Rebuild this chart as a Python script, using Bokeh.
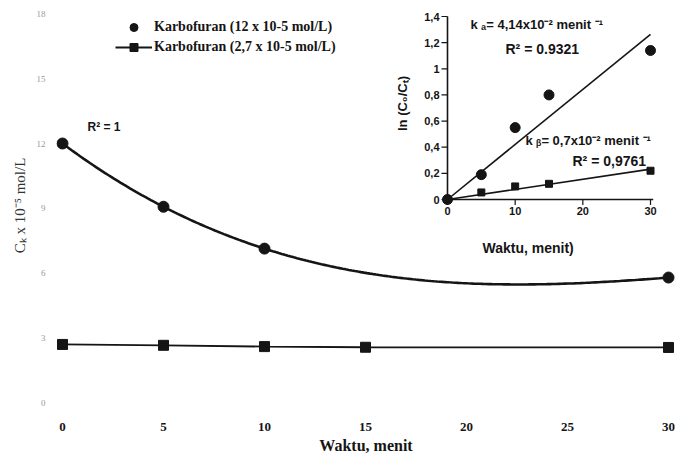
import numpy as np
from bokeh.plotting import figure
from bokeh.models import Range1d, Legend, LegendItem, Label, FixedTicker
from bokeh.core.properties import value
from bokeh.embed import file_html
from bokeh.resources import INLINE

# ---------------- data: main chart ----------------
waktu_12 = [0, 5, 10, 30]
ck_12 = [12.0, 9.07, 7.13, 5.79]
waktu_27 = [0, 5, 10, 15, 30]
ck_27 = [2.69, 2.65, 2.59, 2.56, 2.55]
x_ticks = [0, 5, 10, 15, 20, 25, 30]
y_ticks = [0, 3, 6, 9, 12, 15, 18]
legend_labels = ["Karbofuran (12 x 10-5 mol/L)", "Karbofuran (2,7 x 10-5 mol/L)"]

# ---------------- data: inset ----------------
inset_t = [0, 5, 10, 15, 30]
ln_12 = [0.0, 0.19, 0.55, 0.80, 1.14]
ln_27 = [0.0, 0.054, 0.10, 0.12, 0.22]
inset_x_ticks = [0, 10, 20, 30]
inset_x_labels = ["0", "10", "20", "30"]
inset_y_ticks = [0, 0.2, 0.4, 0.6, 0.8, 1.0, 1.2, 1.4]
inset_y_labels = ["0", "0,2", "0,4", "0,6", "0,8", "1", "1,2", "1,4"]

# ---------------- layout (pixels) ----------------
W, H = 679, 456
FL, FR, FT, FB = 56, 675, 5, 405
# main mapping
MX0, MX1, MY0, MY1 = 62, 668, 402, 143   # t=0, t=30, ck=0, ck=12
sx = (MX1 - MX0) / 30.0
sy = (MY0 - MY1) / 12.0
# inset mapping
IX0, IX1, IY0, IY1 = 447, 650, 199, 16   # t=0, t=30, ln=0, ln=1.4
isx = (IX1 - IX0) / 30.0
isy = (IY0 - IY1) / 1.4

def mx(px): return (px - MX0) / sx
def my(py): return (MY0 - py) / sy
def ixf(px): return (px - IX0) / isx
def iyf(py): return (IY0 - py) / isy

p = figure(width=W, height=H, output_backend="svg", toolbar_location=None,
           x_range=Range1d(mx(FL), mx(FR)), y_range=Range1d(my(FB), my(FT)),
           min_border_left=FL, min_border_right=W - FR,
           min_border_top=FT, min_border_bottom=H - FB)
p.extra_x_ranges = {"ix": Range1d(ixf(FL), ixf(FR))}
p.extra_y_ranges = {"iy": Range1d(iyf(FB), iyf(FT))}
p.outline_line_color = None
p.grid.visible = False
p.background_fill_color = "white"
p.border_fill_color = "white"

SERIF = "Liberation Serif"
SANS = "Liberation Sans"
INK = "#151515"

# axes
p.xaxis.ticker = FixedTicker(ticks=x_ticks)
p.yaxis.ticker = FixedTicker(ticks=y_ticks)
for ax in (p.xaxis, p.yaxis):
    ax.axis_line_color = None
    ax.major_tick_line_color = None
    ax.minor_tick_line_color = None
    ax.major_label_text_font = SERIF
p.xaxis.major_label_text_font_size = "13px"
p.xaxis.major_label_text_font_style = "bold"
p.xaxis.major_label_text_color = INK
p.xaxis.major_label_standoff = 11
p.xaxis.axis_label = "Waktu, menit"
p.xaxis.axis_label_text_font = SERIF
p.xaxis.axis_label_text_font_size = "16px"
p.xaxis.axis_label_text_font_style = "bold"
p.xaxis.axis_label_text_color = INK
p.xaxis.axis_label_standoff = 3
p.yaxis.major_label_text_font_size = "9px"
p.yaxis.major_label_text_color = "#9a9a9a"
p.yaxis.major_label_standoff = 5
p.yaxis.axis_label = "C\u2096 x 10\u207b\u2075 mol/L"
p.yaxis.axis_label_text_font = SERIF
p.yaxis.axis_label_text_font_size = "15px"
p.yaxis.axis_label_text_font_style = "normal"
p.yaxis.axis_label_text_color = "#333333"
p.yaxis.axis_label_standoff = 6

# main series
coef = np.polyfit(waktu_12, ck_12, 3)
tt = np.linspace(min(waktu_12), max(waktu_12), 200)
p.line(tt, np.polyval(coef, tt), line_width=2.6, line_color=INK)
r_c = p.scatter(waktu_12, ck_12, marker="circle", size=11, color=INK)
r_sl = p.line(waktu_27, ck_27, line_width=1.8, line_color=INK)
r_ss = p.scatter(waktu_27, ck_27, marker="square", size=10, color=INK)

p.add_layout(Label(x=mx(87), y=my(126), text="R\u00b2 = 1", text_font=SANS,
                   text_font_size="12px", text_font_style="bold",
                   text_color=INK, text_baseline="middle"))

legend = Legend(items=[LegendItem(label=legend_labels[0], renderers=[r_c]),
                       LegendItem(label=legend_labels[1], renderers=[r_sl, r_ss])],
                location=(115 - FL, FB - 57), orientation="vertical",
                glyph_width=37, glyph_height=20, label_height=20,
                label_standoff=2, spacing=0, padding=0, margin=0,
                border_line_color=None, background_fill_alpha=0,
                label_text_font=SERIF, label_text_font_size="14px",
                label_text_font_style="bold", label_text_color=INK)
p.add_layout(legend)

# ---------------- inset ----------------
R = dict(x_range_name="ix", y_range_name="iy")
p.segment(x0=[inset_x_ticks[0]], y0=[inset_y_ticks[0]], x1=[inset_x_ticks[0]],
          y1=[inset_y_ticks[-1]], line_width=1.6, line_color=INK, **R)
p.segment(x0=[inset_x_ticks[0]], y0=[inset_y_ticks[0]], x1=[inset_x_ticks[-1] + 0.4],
          y1=[inset_y_ticks[0]], line_width=1.6, line_color=INK, **R)
p.scatter([inset_x_ticks[0] - 3 / isx] * len(inset_y_ticks), inset_y_ticks, marker="dash",
          size=6, line_width=1.2, line_color=INK, **R)
p.scatter(inset_x_ticks, [inset_y_ticks[0] - 3 / isy] * len(inset_x_ticks), marker="dash",
          angle=np.pi / 2, size=5, line_width=1.2, line_color=INK, **R)
p.text([inset_x_ticks[0]] * len(inset_y_ticks), inset_y_ticks, text=inset_y_labels,
       x_offset=-8, text_align="right", text_baseline="middle",
       text_font=value(SANS), text_font_size="11px", text_font_style="bold",
       text_color=INK, **R)
p.text(inset_x_ticks, [inset_y_ticks[0]] * len(inset_x_ticks), text=inset_x_labels,
       y_offset=11, text_align="center", text_baseline="middle",
       text_font=value(SANS), text_font_size="11px", text_font_style="bold",
       text_color=INK, **R)

t_arr = np.array(inset_t, dtype=float)
k12 = float(np.sum(t_arr * np.array(ln_12)) / np.sum(t_arr ** 2))
k27 = float(np.sum(t_arr * np.array(ln_27)) / np.sum(t_arr ** 2))
tl = np.array([0.0, max(inset_t)])
p.line(tl, k12 * tl, line_width=1.6, line_color=INK, **R)
p.line(tl, k27 * tl, line_width=1.6, line_color=INK, **R)
p.scatter(inset_t, ln_27, marker="square", size=7, color=INK, **R)
p.scatter(inset_t, ln_12, marker="circle", size=10, color=INK, **R)

def ilabel(px, py, text, size="12px", **kw):
    p.add_layout(Label(x=ixf(px), y=iyf(py), text=text, text_font=SANS,
                       text_font_size=size, text_font_style="bold",
                       text_color=INK, text_baseline="middle",
                       x_range_name="ix", y_range_name="iy", **kw))

ilabel(470, 24, "k \u2090= 4,14x10\u207b\u00b2 menit \u207b\u00b9", size="13px")
ilabel(505, 48, "R\u00b2 = 0.9321", size="14px")
ilabel(525, 140, "k \u1d66= 0,7x10\u207b\u00b2 menit \u207b\u00b9", size="13px")
ilabel(572, 160, "R\u00b2 = 0,9761", size="14px")
ilabel(482, 247, "Waktu, menit)", size="14px")
ilabel(402, 103, "ln (C\u2080/C\u209c)", size="13px", angle=np.pi / 2,
       text_align="center")

open("out.html", "w").write(file_html(p, INLINE))
